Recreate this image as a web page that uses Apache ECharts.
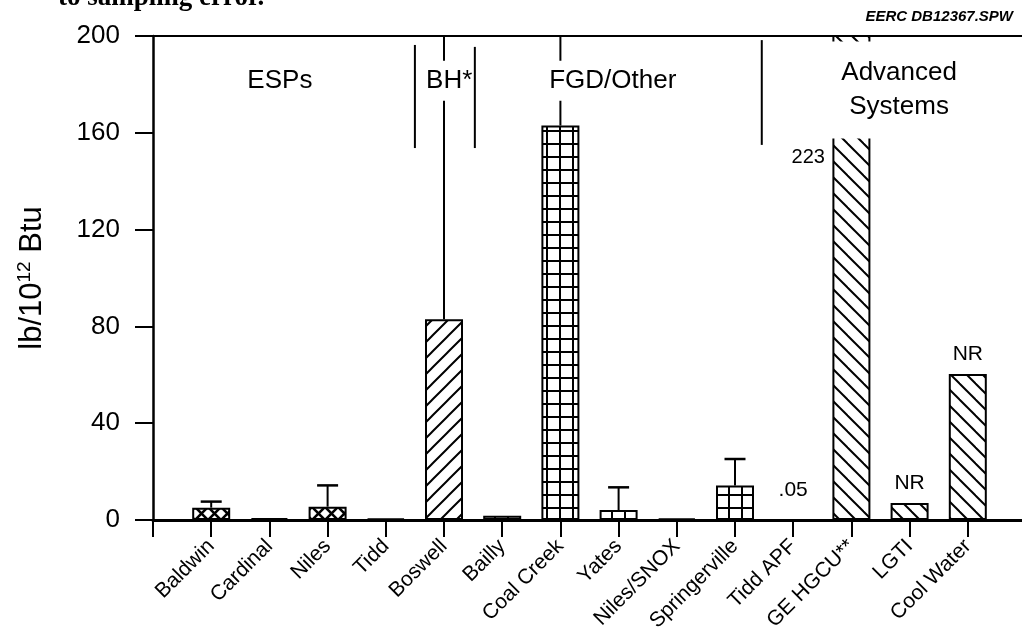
<!DOCTYPE html>
<html>
<head>
<meta charset="utf-8">
<script src="https://cdn.jsdelivr.net/npm/echarts@6/dist/echarts.min.js"></script>
<style>
html,body{margin:0;padding:0;background:#fff;}
#chart{width:1022px;height:629px;}
</style>
</head>
<body>
<div id="chart"></div>
<script>
// ---- data ----
const categories = ['Baldwin','Cardinal','Niles','Tidd','Boswell','Bailly','Coal Creek','Yates','Niles/SNOX','Springerville','Tidd APF','GE HGCU**','LGTI','Cool Water'];
const values = [5.1, 0.8, 5.5, 0.6, 83, 1.8, 163, 4.1, 0.7, 14.3, 0.05, 223, 7, 60.3];
const errorTop = [7.6, null, 14.3, null, 215, null, 215, 13.5, null, 25.2, null, null, null, null];
const controlType = ['ESP','ESP','ESP','ESP','BH','FGD','FGD','FGD','FGD','FGD','ADV','ADV','ADV','ADV'];
const valueLabels = ['', '', '', '', '', '', '', '', '', '', '.05', '', 'NR', 'NR'];
const offScaleLabel = ['GE HGCU**', '223'];
const yTicks = [0, 40, 80, 120, 160, 200];
const sectionNames = ['ESPs', 'BH*', 'FGD/Other', 'Advanced\nSystems'];
const sourceNote = 'EERC DB12367.SPW';
const captionFragment = 'to sampling error.';

// ---- layout / style (not data) ----
const FONT = '"Liberation Sans", Arial, Helvetica, sans-serif';
const yMin = yTicks[0], yMax = yTicks[yTicks.length - 1], yStep = yTicks[1] - yTicks[0];
const nSlots = categories.length + 2; // empty slot at each end
const sectionAt = [[2.18, 181.5], [5.09, 181.5], [7.9, 181.5], [12.82, 177.7]];
const sectionPad = [[2, 2, 2, 2], [3, 0, 3, 0], [3, 2, 3, 2], [17, 10, 12, 10]];
const dividers = [[4.5, 196.3, 153.7], [5.53, 195.5, 153.7], [10.46, 198.3, 155]];

function makePattern(kind) {
  const c = document.createElement('canvas');
  let s = 13;
  if (kind === 'fwd' || kind === 'back') s = 16;
  c.width = s; c.height = s;
  const ctx = c.getContext('2d');
  ctx.fillStyle = '#fff'; ctx.fillRect(0, 0, s, s);
  ctx.strokeStyle = '#000';
  ctx.lineCap = 'square';
  const line = (x1, y1, x2, y2) => { ctx.beginPath(); ctx.moveTo(x1, y1); ctx.lineTo(x2, y2); ctx.stroke(); };
  if (kind === 'cross') {
    ctx.lineWidth = 2.6;
    line(0, 0, s, s); line(s, 0, 0, s);
  } else if (kind === 'grid') {
    ctx.lineWidth = 2;
    line(1, 0, 1, s); line(0, 1, s, 1);
  } else if (kind === 'fwd') {
    ctx.lineWidth = 2;
    line(0, s, s, 0); line(-2, 2, 2, -2); line(s - 2, s + 2, s + 2, s - 2);
  } else {
    ctx.lineWidth = 2;
    line(0, 0, s, s); line(-2, s - 2, 2, s + 2); line(s - 2, -2, s + 2, 2);
  }
  return { image: c, repeat: 'repeat' };
}
const patternFor = { ESP: makePattern('cross'), BH: makePattern('fwd'), FGD: makePattern('grid'), ADV: makePattern('back') };

const xCats = [''].concat(categories, ['']);
const barData = [null].concat(values.map((v, i) => ({
  value: v,
  itemStyle: { color: patternFor[controlType[i]] },
  label: valueLabels[i] ? { show: true, formatter: valueLabels[i], distance: v < 1 ? 18 : 9 } : { show: false }
})), [null]);
const errData = [];
errorTop.forEach((e, i) => { if (e != null) errData.push([i + 1, values[i], e]); });

const annData = sectionNames.map((t, i) => ({ value: sectionAt[i], name: t, label: { padding: sectionPad[i] } }));

const chart = echarts.init(document.getElementById('chart'), null, { renderer: 'canvas' });
const option = {
  backgroundColor: '#fff',
  animation: false,
  textStyle: { fontFamily: FONT, color: '#000' },
  grid: { left: 153, top: 36, width: 873, bottom: 109, containLabel: false, outerBoundsMode: 'none' },
  xAxis: [
    {
      type: 'category', data: xCats, boundaryGap: false, position: 'bottom',
      axisLine: { show: true, lineStyle: { color: '#000', width: 3 } },
      axisTick: { show: true, interval: 0, length: 17, lineStyle: { color: '#000', width: 2 } },
      axisLabel: { interval: 0, rotate: 45, margin: 23, fontSize: 21, color: '#000', fontFamily: FONT },
      splitLine: { show: false }
    },
    {
      type: 'value', min: 0, max: nSlots - 1, position: 'top',
      axisLine: { show: true, onZero: false, lineStyle: { color: '#000', width: 2 } },
      axisTick: { show: false }, axisLabel: { show: false }, splitLine: { show: false }
    }
  ],
  yAxis: {
    type: 'value', min: yMin, max: yMax, interval: yStep,
    name: '{a|lb/10}{s|12}{a| Btu}',
    nameLocation: 'middle', nameRotate: 90, nameGap: 104,
    nameTextStyle: {
      rich: {
        a: { fontSize: 31, fontFamily: FONT, color: '#000' },
        s: { fontSize: 19, fontFamily: FONT, color: '#000', padding: [0, 0, 15, 0] }
      }
    },
    axisLine: { show: true, lineStyle: { color: '#000', width: 2.5 } },
    axisTick: { show: true, length: 18, lineStyle: { color: '#000', width: 2 } },
    axisLabel: { margin: 33, fontSize: 26, color: '#000', fontFamily: FONT },
    splitLine: { show: false }
  },
  series: [
    {
      type: 'bar', xAxisIndex: 0, yAxisIndex: 0, data: barData, barWidth: 38,
      itemStyle: { borderColor: '#000', borderWidth: 2 },
      label: { position: 'top', fontSize: 21, color: '#000', fontFamily: FONT },
      clip: true, z: 2
    },
    {
      type: 'custom', xAxisIndex: 0, yAxisIndex: 0, data: errData, z: 3, clip: true,
      renderItem: function (params, api) {
        const x = api.value(0), lo = api.value(1), hi = api.value(2);
        const p0 = api.coord([x, lo]);
        const p1 = api.coord([x, Math.min(hi, yMax)]);
        const children = [{ type: 'line', shape: { x1: p0[0], y1: p0[1], x2: p1[0], y2: p1[1] }, style: { stroke: '#000', lineWidth: 2 } }];
        if (hi <= yMax) children.push({ type: 'line', shape: { x1: p1[0] - 10.5, y1: p1[1], x2: p1[0] + 10.5, y2: p1[1] }, style: { stroke: '#000', lineWidth: 2.5 } });
        return { type: 'group', children: children };
      }
    }
  ].concat(dividers.map(d => ({
    type: 'line', xAxisIndex: 1, yAxisIndex: 0, symbol: 'none', z: 4,
    data: [[d[0], d[1]], [d[0], d[2]]], lineStyle: { color: '#000', width: 2 }
  }))).concat([
    {
      type: 'scatter', xAxisIndex: 1, yAxisIndex: 0, z: 20, symbolSize: 1,
      itemStyle: { color: 'rgba(0,0,0,0)', opacity: 1 },
      emphasis: { disabled: true },
      data: annData,
      label: {
        show: true, position: 'inside', formatter: p => p.name,
        fontSize: 26, lineHeight: 34, color: '#000', fontFamily: FONT,
        backgroundColor: '#fff', opacity: 1
      }
    },
    {
      type: 'scatter', xAxisIndex: 0, yAxisIndex: 0, z: 20, symbolSize: 1,
      itemStyle: { color: 'rgba(0,0,0,0)', opacity: 1 },
      emphasis: { disabled: true },
      data: [[categories.indexOf(offScaleLabel[0]) + 1, 150]],
      label: { show: true, position: 'left', distance: 26, formatter: offScaleLabel[1], fontSize: 20, color: '#000', fontFamily: FONT, opacity: 1 }
    }
  ]),
  graphic: [
    { type: 'text', right: 9, top: 9, style: { text: sourceNote, font: 'italic bold 15px ' + FONT, fill: '#000' } },
    { type: 'text', left: 58, top: -15, style: { text: captionFragment, font: 'bold 27px "Liberation Serif", "DejaVu Serif", serif', fill: '#000' } }
  ]
};
chart.setOption(option);
</script>
</body>
</html>
